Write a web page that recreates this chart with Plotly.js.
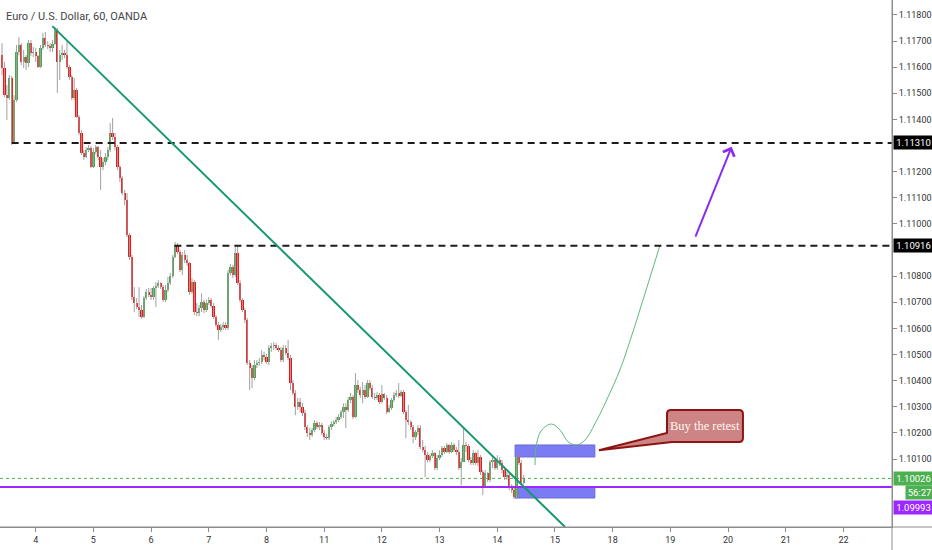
<!DOCTYPE html>
<html>
<head>
<meta charset="utf-8">
<script src="https://cdn.plot.ly/plotly-3.0.1.min.js"></script>
<style>
  html, body { margin: 0; padding: 0; background: #ffffff; }
  #chart { width: 932px; height: 550px; }
</style>
</head>
<body>
<div id="chart"></div>
<script>
// ---- Data (EUR/USD, 1h candles, OANDA) ----
const dayLabels = ['4','5','6','7','8','11','12','13','14','15','18','19','20','21','22'];
const dayTicks  = [0,24,48,72,96,120,144,168,192,216,240,264,288,312,336]; // hour index of each session start
const priceTicks = [1.118,1.117,1.116,1.115,1.114,1.112,1.111,1.110,1.108,1.107,1.106,1.105,1.104,1.103,1.102,1.101];
const firstHour = -14; // first visible candle, hours before the "4" tick

const open = [
1.11647,1.11597,1.11493,1.11482,1.11558,1.11313,1.11474,1.11658,1.11685,1.11620,
1.11639,1.11616,1.11692,1.11654,1.11658,1.11643,1.11600,1.11673,1.11711,1.11685,
1.11681,1.11673,1.11689,1.11742,1.11620,1.11646,1.11654,1.11646,1.11600,1.11562,
1.11482,1.11512,1.11409,1.11348,1.11271,1.11256,1.11283,1.11290,1.11218,1.11275,
1.11294,1.11256,1.11218,1.11237,1.11256,1.11283,1.11348,1.11333,1.11294,1.11218,
1.11176,1.11118,1.11091,1.10957,1.10873,1.10720,1.10697,1.10682,1.10670,1.10644,
1.10716,1.10739,1.10728,1.10720,1.10755,1.10762,1.10774,1.10758,1.10709,1.10747,
1.10774,1.10801,1.10873,1.10919,1.10892,1.10823,1.10881,1.10862,1.10850,1.10739,
1.10777,1.10663,1.10659,1.10678,1.10701,1.10670,1.10697,1.10709,1.10686,1.10644,
1.10613,1.10594,1.10605,1.10613,1.10601,1.10812,1.10835,1.10804,1.10889,1.10774,
1.10709,1.10670,1.10632,1.10467,1.10448,1.10410,1.10460,1.10467,1.10471,1.10498,
1.10490,1.10471,1.10525,1.10532,1.10536,1.10525,1.10517,1.10479,1.10525,1.10506,
1.10487,1.10391,1.10353,1.10299,1.10318,1.10299,1.10276,1.10222,1.10200,1.10192,
1.10211,1.10238,1.10222,1.10230,1.10200,1.10184,1.10180,1.10222,1.10234,1.10242,
1.10249,1.10261,1.10280,1.10299,1.10287,1.10326,1.10337,1.10261,1.10383,1.10364,
1.10345,1.10364,1.10337,1.10391,1.10372,1.10337,1.10334,1.10345,1.10318,1.10349,
1.10334,1.10280,1.10295,1.10326,1.10345,1.10353,1.10341,1.10356,1.10280,1.10249,
1.10242,1.10222,1.10184,1.10203,1.10219,1.10146,1.10134,1.10115,1.10096,1.10111,
1.10123,1.10065,1.10104,1.10115,1.10142,1.10127,1.10154,1.10127,1.10154,1.10134,
1.10127,1.10065,1.10088,1.10154,1.10150,1.10096,1.10085,1.10123,1.10085,1.10108,
1.10050,1.09993,1.10046,1.10020,1.10088,1.10096,1.10065,1.10096,1.10085,1.10058,
1.10031,1.10039,1.09993,1.09981,1.09955,1.10108,1.10085,1.10008
];
const close = [
1.11597,1.11493,1.11482,1.11558,1.11313,1.11474,1.11658,1.11685,1.11620,1.11639,
1.11616,1.11692,1.11654,1.11658,1.11643,1.11600,1.11673,1.11711,1.11685,1.11681,
1.11673,1.11689,1.11742,1.11620,1.11646,1.11654,1.11646,1.11600,1.11562,1.11482,
1.11512,1.11409,1.11348,1.11271,1.11256,1.11283,1.11290,1.11218,1.11275,1.11294,
1.11256,1.11218,1.11237,1.11256,1.11283,1.11348,1.11333,1.11294,1.11218,1.11176,
1.11118,1.11091,1.10957,1.10873,1.10720,1.10697,1.10682,1.10670,1.10644,1.10716,
1.10739,1.10728,1.10720,1.10755,1.10762,1.10774,1.10758,1.10709,1.10747,1.10774,
1.10801,1.10873,1.10919,1.10892,1.10823,1.10881,1.10862,1.10850,1.10739,1.10777,
1.10663,1.10659,1.10678,1.10701,1.10670,1.10697,1.10709,1.10686,1.10644,1.10613,
1.10594,1.10605,1.10613,1.10601,1.10812,1.10835,1.10804,1.10889,1.10774,1.10709,
1.10670,1.10632,1.10467,1.10448,1.10410,1.10460,1.10467,1.10471,1.10498,1.10490,
1.10471,1.10525,1.10532,1.10536,1.10525,1.10517,1.10479,1.10525,1.10506,1.10487,
1.10391,1.10353,1.10299,1.10318,1.10299,1.10276,1.10222,1.10200,1.10192,1.10211,
1.10238,1.10222,1.10230,1.10200,1.10184,1.10180,1.10222,1.10234,1.10242,1.10249,
1.10261,1.10280,1.10299,1.10287,1.10326,1.10337,1.10261,1.10383,1.10364,1.10345,
1.10364,1.10337,1.10391,1.10372,1.10337,1.10334,1.10345,1.10318,1.10349,1.10334,
1.10280,1.10295,1.10326,1.10345,1.10353,1.10341,1.10356,1.10280,1.10249,1.10242,
1.10222,1.10184,1.10203,1.10219,1.10146,1.10134,1.10115,1.10096,1.10111,1.10123,
1.10065,1.10104,1.10115,1.10142,1.10127,1.10154,1.10127,1.10154,1.10134,1.10127,
1.10065,1.10088,1.10154,1.10150,1.10096,1.10085,1.10123,1.10085,1.10108,1.10050,
1.09993,1.10046,1.10020,1.10088,1.10096,1.10065,1.10096,1.10085,1.10058,1.10031,
1.10039,1.09993,1.09981,1.09955,1.10108,1.10085,1.10008,1.10026
];
const high = [
1.11692,1.11620,1.11532,1.11570,1.11566,1.11493,1.11685,1.11715,1.11692,1.11666,
1.11646,1.11704,1.11704,1.11677,1.11673,1.11646,1.11685,1.11731,1.11734,1.11700,
1.11692,1.11704,1.11754,1.11750,1.11666,1.11685,1.11666,1.11704,1.11608,1.11570,
1.11558,1.11520,1.11417,1.11359,1.11283,1.11294,1.11302,1.11298,1.11290,1.11302,
1.11298,1.11283,1.11252,1.11271,1.11294,1.11386,1.11405,1.11348,1.11302,1.11225,
1.11183,1.11130,1.11118,1.10965,1.10881,1.10758,1.10716,1.10758,1.10690,1.10724,
1.10751,1.10755,1.10755,1.10762,1.10777,1.10785,1.10777,1.10766,1.10766,1.10797,
1.10812,1.10881,1.10931,1.10927,1.10900,1.10892,1.10900,1.10881,1.10854,1.10793,
1.10785,1.10697,1.10690,1.10735,1.10709,1.10709,1.10720,1.10716,1.10697,1.10651,
1.10624,1.10617,1.10624,1.10624,1.10824,1.10846,1.10843,1.10919,1.10919,1.10785,
1.10716,1.10678,1.10640,1.10479,1.10460,1.10479,1.10479,1.10487,1.10517,1.10510,
1.10502,1.10536,1.10544,1.10548,1.10544,1.10536,1.10529,1.10536,1.10536,1.10556,
1.10498,1.10402,1.10364,1.10334,1.10334,1.10314,1.10288,1.10230,1.10219,1.10219,
1.10249,1.10245,1.10242,1.10238,1.10211,1.10196,1.10230,1.10245,1.10249,1.10261,
1.10272,1.10288,1.10314,1.10314,1.10337,1.10353,1.10345,1.10429,1.10402,1.10376,
1.10395,1.10383,1.10402,1.10402,1.10383,1.10353,1.10356,1.10353,1.10383,1.10353,
1.10345,1.10307,1.10334,1.10356,1.10364,1.10391,1.10364,1.10364,1.10288,1.10307,
1.10249,1.10230,1.10211,1.10230,1.10230,1.10173,1.10150,1.10127,1.10119,1.10134,
1.10127,1.10115,1.10134,1.10150,1.10150,1.10161,1.10157,1.10165,1.10161,1.10146,
1.10173,1.10104,1.10222,1.10165,1.10157,1.10108,1.10134,1.10127,1.10134,1.10115,
1.10058,1.10058,1.10050,1.10096,1.10115,1.10104,1.10115,1.10108,1.10096,1.10065,
1.10050,1.10046,1.10004,1.09997,1.10111,1.10111,1.10096,1.10039
];
const low = [
1.11570,1.11486,1.11398,1.11474,1.11302,1.11310,1.11467,1.11646,1.11608,1.11597,
1.11589,1.11600,1.11643,1.11639,1.11620,1.11597,1.11597,1.11666,1.11677,1.11669,
1.11658,1.11658,1.11685,1.11501,1.11551,1.11627,1.11635,1.11593,1.11551,1.11474,
1.11474,1.11405,1.11340,1.11264,1.11245,1.11252,1.11275,1.11214,1.11214,1.11267,
1.11245,1.11130,1.11206,1.11225,1.11245,1.11275,1.11321,1.11283,1.11206,1.11160,
1.11110,1.11072,1.10950,1.10862,1.10709,1.10663,1.10674,1.10644,1.10636,1.10640,
1.10709,1.10720,1.10709,1.10709,1.10682,1.10755,1.10751,1.10701,1.10701,1.10739,
1.10766,1.10793,1.10869,1.10885,1.10816,1.10804,1.10850,1.10839,1.10728,1.10732,
1.10651,1.10647,1.10647,1.10663,1.10659,1.10663,1.10690,1.10678,1.10636,1.10605,
1.10556,1.10586,1.10594,1.10594,1.10594,1.10804,1.10793,1.10797,1.10766,1.10701,
1.10663,1.10621,1.10460,1.10364,1.10372,1.10402,1.10448,1.10456,1.10464,1.10479,
1.10464,1.10460,1.10510,1.10517,1.10517,1.10510,1.10471,1.10471,1.10498,1.10479,
1.10364,1.10345,1.10268,1.10288,1.10280,1.10265,1.10211,1.10184,1.10173,1.10184,
1.10203,1.10215,1.10211,1.10192,1.10173,1.10173,1.10173,1.10211,1.10226,1.10234,
1.10242,1.10253,1.10257,1.10219,1.10280,1.10314,1.10253,1.10257,1.10353,1.10334,
1.10314,1.10330,1.10334,1.10364,1.10330,1.10326,1.10326,1.10310,1.10314,1.10326,
1.10272,1.10276,1.10288,1.10318,1.10337,1.10334,1.10337,1.10272,1.10180,1.10230,
1.10211,1.10161,1.10173,1.10192,1.10138,1.10127,1.10031,1.10088,1.10088,1.10104,
1.10058,1.10058,1.10096,1.10108,1.10119,1.10123,1.10119,1.10123,1.10127,1.10115,
1.10058,1.10000,1.10088,1.10127,1.10088,1.10077,1.10077,1.10077,1.10073,1.10039,
1.09962,1.09989,1.10012,1.10012,1.10065,1.10058,1.10058,1.10073,1.10046,1.10020,
1.10020,1.09981,1.09970,1.09947,1.09947,1.10077,1.10000,1.10004
];

// Drawn levels and objects (hour index, price)
const lastPrice = 1.10026;
const supportLevel = 1.09993;
const levelA = {price: 1.11310, fromHour: -10.0};
const levelB = {price: 1.10916, fromHour: 57.7};
const trendFrom = [6.9, 1.11757];
const trendTo = [220.2, 1.09840];
const zoneUpper = {x0: 199.4, x1: 232.6, y0: 1.10108, y1: 1.10154};
const zoneLower = {x0: 199.4, x1: 232.6, y0: 1.09951, y1: 1.09993};
const pathHours  = [207.7, 208.4, 210.5, 214.6, 218.1, 221.5, 225.0, 228.5, 233.4, 237.5, 243.0, 248.0, 253.9, 259.7];
const pathPrices = [1.10077,1.10161,1.10211,1.10234,1.10211,1.10166,1.10154,1.10173,1.10249,1.10326,1.10441,1.10575,1.10747,1.10919];
const arrowFrom = [274.2, 1.10946];
const arrowTo = [289.5, 1.11295];
const callout = {x0: 262.6, x1: 294.2, y0: 1.10165, y1: 1.10288, tipX: 234.3, tipY: 1.10134, baseAX: 264.7, baseBY: 1.10200};
const calloutText = 'Buy the retest';
const titleText = 'Euro / U.S. Dollar, 60, OANDA';
const countdown = '56:27';

// ---- Build traces ----
const hours = close.map((_, i) => firstHour + i);
const bodyH = close.map((c, i) => {
  const d = c - open[i];
  if (Math.abs(d) < 0.000015) return d >= 0 ? 0.000015 : -0.000015;
  return d;
});
const bodyColor = close.map((c, i) => c >= open[i] ? '#43a847' : '#ff0d0d');

const wicks = {
  type: 'ohlc', x: hours, open: open, high: high, low: low, close: close,
  tickwidth: 0,
  increasing: {line: {color: '#a0a0a0', width: 1}},
  decreasing: {line: {color: '#a0a0a0', width: 1}},
  hoverinfo: 'skip', showlegend: false
};
const bodies = {
  type: 'bar', x: hours, base: open, y: bodyH, width: 0.95,
  marker: {color: bodyColor, line: {width: 0}},
  hoverinfo: 'skip', showlegend: false
};
const projection = {
  type: 'scatter', mode: 'lines', x: pathHours, y: pathPrices,
  line: {color: '#5cb97e', width: 1, shape: 'spline', smoothing: 1.1},
  hoverinfo: 'skip', showlegend: false
};

// ---- Callout path (rounded box with pointer) ----
const rx = 1.66, ry = 0.000153;
const c = callout;
const calloutPath =
  `M${c.x0 + rx},${c.y1} L${c.x1 - rx},${c.y1} Q${c.x1},${c.y1} ${c.x1},${c.y1 - ry} ` +
  `L${c.x1},${c.y0 + ry} Q${c.x1},${c.y0} ${c.x1 - rx},${c.y0} ` +
  `L${c.baseAX},${c.y0} L${c.tipX},${c.tipY} L${c.x0},${c.baseBY} ` +
  `L${c.x0},${c.y1 - ry} Q${c.x0},${c.y1} ${c.x0 + rx},${c.y1} Z`;

const axisFont = {family: 'Liberation Sans Narrow, Roboto, Liberation Sans, sans-serif', size: 9, color: '#333333'};

const shapes = [
  {type: 'rect', xref: 'x', yref: 'y', x0: zoneUpper.x0, x1: zoneUpper.x1, y0: zoneUpper.y0, y1: zoneUpper.y1,
   fillcolor: 'rgba(112,112,242,0.92)', line: {color: '#6a6ad8', width: 1}, layer: 'below'},
  {type: 'rect', xref: 'x', yref: 'y', x0: zoneLower.x0, x1: zoneLower.x1, y0: zoneLower.y0, y1: zoneLower.y1,
   fillcolor: 'rgba(112,112,242,0.92)', line: {color: '#6a6ad8', width: 1}, layer: 'below'},
  {type: 'line', xref: 'paper', yref: 'y', x0: 0, x1: 1, y0: lastPrice, y1: lastPrice,
   line: {color: '#4caf50', width: 1, dash: 'dot'}, layer: 'below'},
  {type: 'line', xref: 'paper', yref: 'y', x0: 0, x1: 1, y0: supportLevel, y1: supportLevel,
   line: {color: '#9c27ff', width: 2}},
  {type: 'line', xref: 'x', yref: 'y', x0: levelA.fromHour, x1: 356.2, y0: levelA.price, y1: levelA.price,
   line: {color: '#1c1c1c', width: 2, dash: '7px,5px'}},
  {type: 'line', xref: 'x', yref: 'y', x0: levelB.fromHour, x1: 356.2, y0: levelB.price, y1: levelB.price,
   line: {color: '#1c1c1c', width: 2, dash: '7px,5px'}},
  {type: 'line', xref: 'x', yref: 'y', x0: trendFrom[0], y0: trendFrom[1], x1: trendTo[0], y1: trendTo[1],
   line: {color: '#17996f', width: 2}},
  {type: 'path', xref: 'x', yref: 'y', path: calloutPath,
   fillcolor: '#cc8484', line: {color: '#8e1414', width: 2}},
  {type: 'line', xref: 'paper', yref: 'paper', x0: 1, x1: 1, y0: -0.06, y1: 1, line: {color: '#8c8c8c', width: 1}},
  {type: 'line', xref: 'paper', yref: 'paper', x0: 0, x1: 1.05, y0: 0, y1: 0, line: {color: '#8c8c8c', width: 1}}
];

function priceTag(price, text, bg, shiftX, w, shiftY) {
  return {xref: 'paper', yref: 'y', x: 1, y: price, xanchor: 'left', yanchor: 'middle',
    xshift: shiftX, yshift: shiftY, text: text, showarrow: false, bgcolor: bg, width: w, height: 13,
    align: 'center', borderpad: 0,
    font: {family: axisFont.family, size: 9.5, color: '#ffffff'}};
}

const annotations = [
  {xref: 'paper', yref: 'paper', x: 0, y: 1, xanchor: 'left', yanchor: 'top', xshift: 4, yshift: -8,
   text: titleText, showarrow: false,
   font: {family: 'Liberation Sans Narrow, Roboto, Liberation Sans, sans-serif', size: 11, color: '#444444'}},
  {xref: 'x', yref: 'y', x: (c.x0 + c.x1) / 2, y: (c.y0 + c.y1) / 2, text: calloutText, showarrow: false,
   font: {family: 'Liberation Serif, DejaVu Serif, serif', size: 12.5, color: '#fff6f0'}},
  {xref: 'x', yref: 'y', axref: 'x', ayref: 'y', x: arrowTo[0], y: arrowTo[1], ax: arrowFrom[0], ay: arrowFrom[1],
   text: '', showarrow: true, arrowhead: 4, arrowsize: 1.2, arrowwidth: 2, arrowcolor: '#8a2cf0', standoff: 0},
  priceTag(levelA.price, '1.11310', '#000000', 1, 39, 0),
  priceTag(levelB.price, '1.10916', '#000000', 1, 39, 0),
  priceTag(lastPrice, '1.10026', '#4caf50', 1, 39, 0),
  priceTag(lastPrice, countdown, '#4caf50', 13, 27, -14),
  priceTag(supportLevel, '1.09993', '#9c27ff', 1, 39, -20)
];

const layout = {
  width: 932, height: 550,
  margin: {l: 0, r: 40, t: 0, b: 23, pad: 0},
  paper_bgcolor: '#ffffff', plot_bgcolor: '#ffffff',
  showlegend: false, bargap: 0,
  xaxis: {
    range: [-14.85, 356.2], tickmode: 'array', tickvals: dayTicks, ticktext: dayLabels,
    showgrid: false, zeroline: false, showline: true, linecolor: '#8c8c8c', linewidth: 1,
    ticks: 'outside', ticklen: 4, tickcolor: '#8c8c8c', tickfont: axisFont,
    rangeslider: {visible: false}, fixedrange: true
  },
  yaxis: {
    side: 'right', range: [1.09840, 1.11857], tickmode: 'array', tickvals: priceTicks, tickformat: '.5f',
    showgrid: false, zeroline: false, showline: true, linecolor: '#8c8c8c', linewidth: 1,
    ticks: 'outside', ticklen: 4, tickcolor: '#8c8c8c', tickfont: axisFont, fixedrange: true
  },
  shapes: shapes,
  annotations: annotations
};

Plotly.newPlot('chart', [wicks, bodies, projection], layout, {displayModeBar: false, staticPlot: true});
</script>
</body>
</html>
